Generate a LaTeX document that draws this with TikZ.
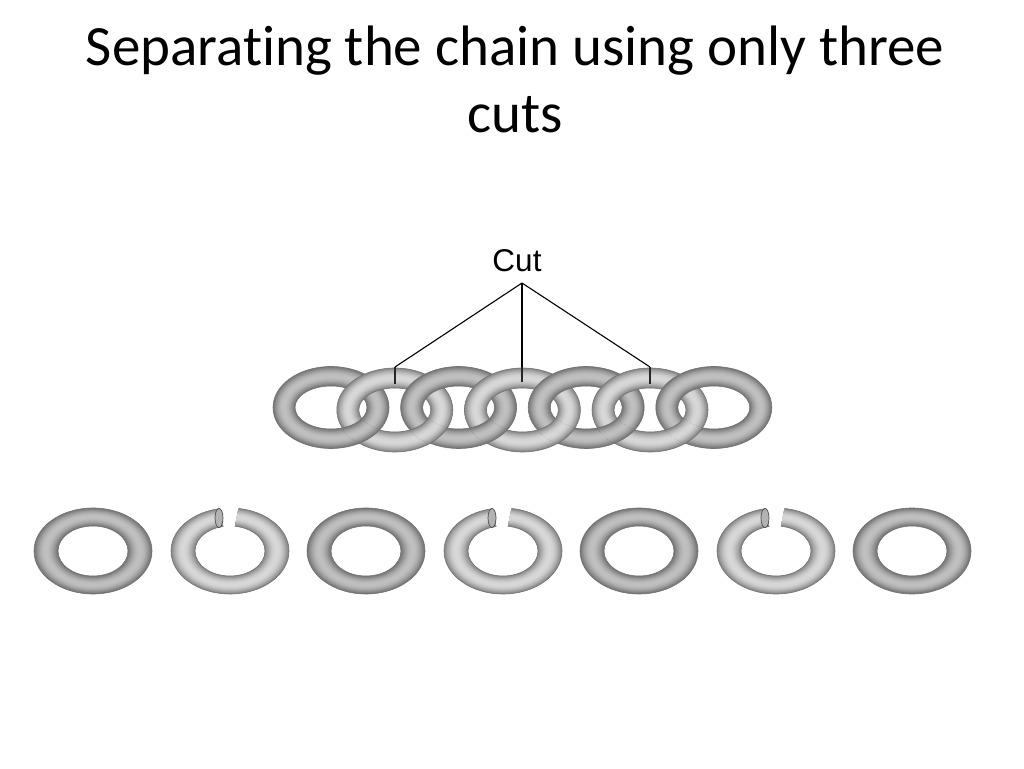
\documentclass[tikz,border=0pt]{standalone}
\usepackage{fontspec}
\setmainfont{Carlito}[Ligatures={NoCommon}]
\newfontfamily\labelfont{Liberation Sans}
\definecolor{darkedge}{HTML}{747474}
\definecolor{darkmid}{HTML}{C0C0C0}
\definecolor{lightedge}{HTML}{868686}
\definecolor{lightmid}{HTML}{D8D8D8}
\tikzset{
  ringline/.style={draw=black!55, line width=0.6pt},
  cutline/.style={line width=1.1pt, draw=black},
  cutstub/.style={line width=2.6pt, draw=black!85},
  titletext/.style={font=\fontsize{57}{60}\selectfont, anchor=base, inner sep=0pt},
  labeltext/.style={font=\labelfont\fontsize{31.5}{33}\selectfont, anchor=base, inner sep=0pt},
}
% #1 cx, #2 cy, #3 ox, #4 oy, #5 ix, #6 iy, #7 edge colour, #8 middle colour
\newcommand\ringshape[8]{%
  \foreach \k in {0,...,15}{%
    \pgfmathsetmacro\f{\k/32}%
    \pgfmathtruncatemacro\p{100*sin(90*\k/15)}%
    \fill[#8!\p!#7, even odd rule]
      (#1,#2) ellipse [x radius={#3-\f*(#3-#5)}, y radius={#4-\f*(#4-#6)}]
      (#1,#2) ellipse [x radius={#5+\f*(#3-#5)}, y radius={#6+\f*(#4-#6)}];
  }%
  \draw[ringline] (#1,#2) ellipse [x radius=#3, y radius=#4]
                  (#1,#2) ellipse [x radius=#5, y radius=#6];
}
\newcommand\fullring[2]{\ringshape{#1}{#2}{59}{43}{35}{25}{darkedge}{darkmid}}
\newcommand\openring[2]{%
  \begin{scope}
    \clip (#1,#2) -- (#1-19,#2+70) -- (#1-80,#2+70) -- (#1-80,#2-70)
          -- (#1+80,#2-70) -- (#1+80,#2+70) -- (#1+14,#2+70) -- cycle;
    \ringshape{#1}{#2}{59}{43}{35}{25}{lightedge}{lightmid}
  \end{scope}
  \draw[draw=black!70, line width=0.7pt, fill=lightmid!55!lightedge] (#1-11,#2+33) ellipse [x radius=4, y radius=9.5];
}
\newcommand\chainring[3]{% cx, cy, 0 dark / 1 light
  \ifnum#3=0
    \ringshape{#1}{#2}{58}{41}{36}{21.5}{darkedge}{darkmid}%
  \else
    \ringshape{#1}{#2}{58}{42}{36}{22}{lightedge}{lightmid}%
  \fi
}
\begin{document}
\begin{tikzpicture}[x=1pt, y=1pt]
  \useasboundingbox[fill=white] (0,0) rectangle (1024,768);

  % title
  \node[titletext] (title1) at (515,702) {Separating the chain using only three};
  \node[titletext] (title2) at (515,635) {cuts};

  % linked chain
  \foreach \i in {0,...,6}{
    \pgfmathsetmacro\cx{331+63.8*\i}
    \pgfmathtruncatemacro\odd{mod(\i,2)}
    \ifnum\odd=0
      \chainring{\cx}{360.5}{0}
    \else
      \chainring{\cx}{358}{1}
    \fi
  }
  % weave: left ring passes over its right neighbour at the lower crossing
  \foreach \i in {0,...,5}{
    \pgfmathsetmacro\cx{331+63.8*\i}
    \pgfmathsetmacro\nx{\cx+63.8}
    \pgfmathtruncatemacro\odd{mod(\i,2)}
    \begin{scope}[even odd rule]
      \clip (\cx+2,300) rectangle (\cx+62,354);
      \ifnum\odd=0
        \clip (\nx,358) ellipse [x radius=58.3, y radius=42.3]
              (\nx,358) ellipse [x radius=35.7, y radius=21.7];
        \chainring{\cx}{360.5}{0}
      \else
        \clip (\nx,360.5) ellipse [x radius=58.3, y radius=41.3]
              (\nx,360.5) ellipse [x radius=35.7, y radius=21.2];
        \chainring{\cx}{358}{1}
      \fi
    \end{scope}
  }

  % cut label and leaders
  \node[labeltext] (cut) at (517,496) {Cut};
  \coordinate (apex) at (522,485);
  \coordinate (topA) at (395,401);
  \coordinate (topB) at (522,401);
  \coordinate (topC) at (650,401);
  \coordinate (botA) at (395,384);
  \coordinate (botB) at (522,386);
  \coordinate (botC) at (650,384);
  \draw[cutline] (apex) -- (topA);
  \draw[cutline] (apex) -- (topB);
  \draw[cutline] (apex) -- (topC);
  \draw[cutstub] (topA) -- (botA);
  \draw[cutstub] (topB) -- (botB);
  \draw[cutstub] (topC) -- (botC);

  % separated rings
  \fullring{93}{217}
  \openring{230}{217}
  \fullring{366}{217}
  \openring{503}{217}
  \fullring{639}{217}
  \openring{776}{217}
  \fullring{912}{217}
\end{tikzpicture}
\end{document}
